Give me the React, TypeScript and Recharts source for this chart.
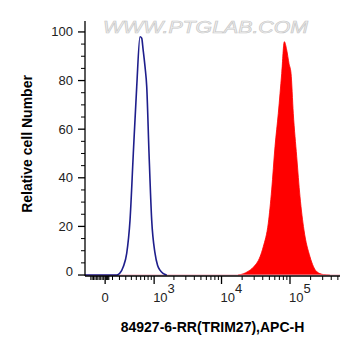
import { ComposedChart, XAxis, YAxis, Line, Area, ReferenceLine } from 'recharts'

// control (unstained) histogram, blue outline
const blueIntensity = [-300, 160, 208, 259, 316, 375, 438, 509, 584, 626, 659, 712, 760, 829, 915, 1032, 1130, 1233, 1371, 1560]
const blueCount = [0, 0, 0.8, 3.4, 8.9, 22.6, 50, 77.5, 98, 97.4, 93, 85.7, 77.5, 50, 22.6, 9, 4, 2, 0.7, 0]

// stained sample histogram, red fill
const redIntensity = [17400, 20800, 24400, 29100, 36500, 40700, 48200, 54000, 60400, 67500, 75700, 82600, 89500, 96700, 103500, 111700, 125300, 140000, 160000, 195800, 245400, 306400, 383700]
const redCount = [0, 0.5, 1.5, 3.2, 7.5, 11.6, 21.3, 35, 52.8, 66.5, 83, 96, 92.6, 87, 83, 66.5, 48.7, 32.2, 18.5, 7.5, 1.4, 0.2, 0]

const xMajorTicks = [0, 1000, 10000, 100000]
const xMajorLabels = ['0', '3', '4', '5']
const xMinorTicks = [
  -200, -180, -160, -140, -120, -100, -80, -60, -40, -20, 10, 20, 30, 40, 50,
  100, 200, 300, 400, 500, 600, 700, 800, 900,
  2000, 3000, 4000, 5000, 6000, 7000, 8000, 9000,
  20000, 30000, 40000, 50000, 60000, 70000, 80000, 90000,
  200000, 300000, 400000, 500000,
]
const yTicks = [0, 5, 10, 15, 20, 25, 30, 35, 40, 45, 50, 55, 60, 65, 70, 75, 80, 85, 90, 95, 100]
const yLabels = [0, 20, 40, 60, 80, 100]

const FONT = '"Liberation Sans", Arial, sans-serif'

// biexponential-ish display transform (linear near 0, log10 for large values)
const C = 200
const biex = (v: number) => Math.log10((v + Math.sqrt(v * v + 4 * C * C)) / 2)

const blueData = blueIntensity.map((v, i) => ({ t: biex(v), count: blueCount[i] }))
const redData = redIntensity.map((v, i) => ({ t: biex(v), count: redCount[i] }))
const majorT = xMajorTicks.map(biex)
const xTicks = [...xMinorTicks, ...xMajorTicks].map(biex).sort((a, b) => a - b)

function XTick({ x, y, payload }: any) {
  const idx = majorT.findIndex((m) => Math.abs(m - payload.value) < 1e-6)
  if (idx < 0) return <line x1={x} y1={y} x2={x} y2={y + 4} stroke="#000" />
  const lab = xMajorLabels[idx]
  return (
    <g>
      <line x1={x} y1={y} x2={x} y2={y + 8} stroke="#000" strokeWidth={1.3} />
      {lab === '0' ? (
        <text x={x} y={y + 26} textAnchor="middle" fontSize={13} fontFamily={FONT} fill="#222">0</text>
      ) : (
        <text x={x - 1} y={y + 26} textAnchor="start" fontSize={13} fontFamily={FONT} fill="#222">
          10<tspan dy={-9}>{lab}</tspan>
        </text>
      )}
    </g>
  )
}

function YTick({ x, y, payload }: any) {
  const major = yLabels.includes(payload.value)
  if (!major) return <line x1={x - 4} y1={y} x2={x} y2={y} stroke="#000" />
  return (
    <g>
      <line x1={x - 7} y1={y} x2={x} y2={y} stroke="#000" strokeWidth={1.3} />
      <text x={x - 12} y={y + 4.5 - (payload.value === 0 ? 4 : 0)} textAnchor="end" fontSize={13} fontFamily={FONT} fill="#222">
        {payload.value}
      </text>
    </g>
  )
}

export default function App() {
  return (
    <div style={{ position: 'absolute', left: 0, top: 0, width: 361, height: 356, background: '#fff', fontFamily: FONT }}>
      <ComposedChart width={361} height={356} margin={{ top: 21, right: 21, bottom: 0, left: 0 }}>
        <text x={103} y={33} fontSize={16} fontStyle="italic" fontFamily={FONT} fill="#f0f0f0" stroke="#c8c8c8" strokeWidth={0.6}
          textLength={205} lengthAdjust="spacingAndGlyphs">WWW.PTGLAB.COM</text>
        <XAxis dataKey="t" type="number" domain={[2.007, 5.73]} allowDataOverflow ticks={xTicks} interval={0}
          height={80} tickSize={0} tickMargin={0} tickLine={false} tick={<XTick />} axisLine={{ stroke: '#000', strokeWidth: 1.3 }} />
        <XAxis xAxisId="top" orientation="top" type="number" domain={[0, 1]} height={0} tick={false} tickLine={false}
          axisLine={{ stroke: '#000', strokeWidth: 1.3 }} />
        <YAxis type="number" domain={[-0.4, 104.5]} allowDataOverflow ticks={yTicks} interval={0} width={85}
          tickSize={0} tickMargin={0} tickLine={false} tick={<YTick />} axisLine={{ stroke: '#000', strokeWidth: 1.3 }} />
        <YAxis yAxisId="right" orientation="right" type="number" domain={[0, 1]} width={0} tick={false} tickLine={false}
          axisLine={{ stroke: '#000', strokeWidth: 1.3 }} />
        <ReferenceLine y={0} stroke="#f0a8b8" strokeWidth={1} />
        <Area data={redData} dataKey="count" type="monotone" fill="#ff0000" fillOpacity={1} stroke="#ff0000" strokeWidth={0.8}
          isAnimationActive={false} dot={false} activeDot={false} />
        <Line data={blueData} dataKey="count" type="monotone" stroke="#1e1e8c" strokeWidth={1.6}
          isAnimationActive={false} dot={false} activeDot={false} />
        <text x={212.5} y={332} textAnchor="middle" fontSize={14} fontWeight="bold" fontFamily={FONT} fill="#000">
          84927-6-RR(TRIM27),APC-H
        </text>
        <text transform="rotate(-90)" x={-144} y={32} textAnchor="middle" fontSize={14} fontWeight="bold" fontFamily={FONT} fill="#000">
          Relative cell Number
        </text>
      </ComposedChart>
    </div>
  )
}
